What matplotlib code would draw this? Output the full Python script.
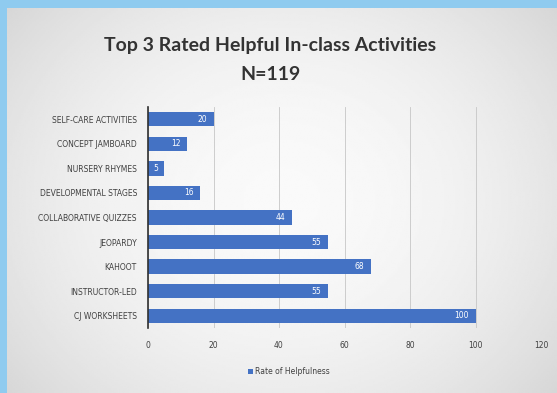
import matplotlib
matplotlib.use("Agg")
import matplotlib.pyplot as plt
import numpy as np

# dados (de cima para baixo)
categorias = ["SELF-CARE ACTIVITIES", "CONCEPT JAMBOARD", "NURSERY RHYMES",
              "DEVELOPMENTAL STAGES", "COLLABORATIVE QUIZZES", "JEOPARDY",
              "KAHOOT", "INSTRUCTOR-LED", "CJ WORKSHEETS"]
valores = [20, 12, 5, 16, 44, 55, 68, 55, 100]
ticks_x = [0, 20, 40, 60, 80, 100, 120]

narrow = ["Liberation Sans Narrow", "DejaVu Sans"]
titulo_fonte = ["Lato", "DejaVu Sans"]

fig = plt.figure(figsize=(5.57, 3.93), dpi=100)
fig.patch.set_facecolor("#8fcbef")

# fundo cinza com degradê (slide)
bg = fig.add_axes([7/557, 0, 1 - 7/557, 1 - 8/393])
yy, xx = np.mgrid[-1:1:200j, -1:1:300j]
grad = 1 - 0.5 * (xx**2 * 0.6 + yy**2 * 0.4)
bg.imshow(grad, cmap="gray", vmin=-2.6, vmax=1.08, aspect="auto", extent=[0, 1, 0, 1])
bg.set_axis_off()

ax = fig.add_axes([148/557, 1 - 328/393, (541 - 148)/557, (328 - 107)/393])
ax.patch.set_alpha(0)

y = np.arange(len(categorias))
bars = ax.barh(y, valores, height=0.58, color="#4472c4", zorder=3)
ax.set_ylim(len(categorias) - 0.5, -0.5)
ax.set_xlim(0, 120)
ax.set_xticks(ticks_x)
ax.set_yticks(y)
ax.set_yticklabels(categorias, family=narrow, fontsize=5.5, color="#404040")
ax.set_xticklabels([str(t) for t in ticks_x], family=narrow, fontsize=5.5, color="#404040")
ax.tick_params(axis="y", length=0, pad=8)
ax.tick_params(axis="x", length=0, pad=9)
ax.grid(axis="x", color="#c6c6c6", linewidth=0.6, zorder=0)
for s in ["top", "right", "bottom"]:
    ax.spines[s].set_visible(False)
ax.spines["left"].set_color("#303030")
ax.spines["left"].set_linewidth(1.2)
ax.spines["left"].set_zorder(4)

# rótulos dos valores dentro das barras
for b, v in zip(bars, valores):
    ax.text(v - 2, b.get_y() + b.get_height() / 2, str(v), ha="right", va="center",
            color="white", fontsize=5.5, family=narrow, zorder=5)

fig.text(270/557, 1 - 45/393, "Top 3 Rated Helpful In-class Activities", ha="center", va="center",
         fontsize=14, fontweight="bold", color="#333333", family=titulo_fonte)
fig.text(270/557, 1 - 75/393, "N=119", ha="center", va="center",
         fontsize=14, fontweight="bold", color="#333333", family=titulo_fonte)

# legenda
leg = fig.legend([bars[0]], ["Rate of Helpfulness"], loc="center",
                 bbox_to_anchor=(289/557, 1 - 372/393),
                 frameon=False, prop={"family": narrow, "size": 5.5}, handlelength=0.6,
                 handleheight=0.6, handletextpad=0.3)
for t in leg.get_texts():
    t.set_color("#404040")

fig.savefig("out.png", dpi=100)
